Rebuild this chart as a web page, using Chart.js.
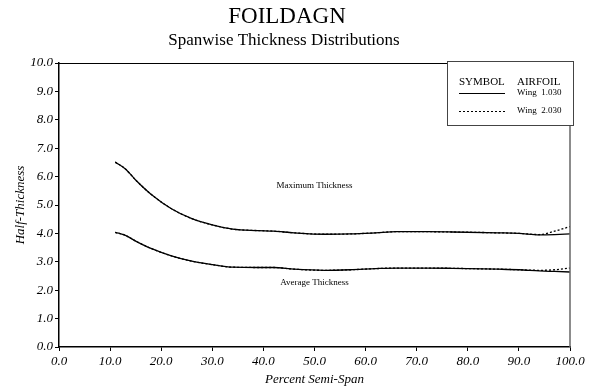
<!DOCTYPE html>
<html>
<head>
<meta charset="utf-8">
<title>FOILDAGN</title>
<script src="https://cdn.jsdelivr.net/npm/chart.js@4/dist/chart.umd.min.js"></script>
<style>
  html, body { margin: 0; padding: 0; background: #fff; }
  canvas { display: block; }
</style>
</head>
<body>
<canvas id="thicknessChart" width="597" height="389"></canvas>
<script>
// Percent semi-span stations
const span = [11, 13, 15, 18, 22, 26, 30, 34, 39, 42, 46, 52, 57, 62, 66, 72, 77, 86, 90, 94, 97, 100];

// Maximum half-thickness
const maxWing1 = [6.51, 6.27, 5.88, 5.38, 4.87, 4.52, 4.30, 4.15, 4.10, 4.08, 4.02, 3.97, 3.98, 4.02, 4.06, 4.06, 4.05, 4.02, 4.00, 3.95, 3.96, 3.98];
const maxWing2 = [6.51, 6.27, 5.88, 5.38, 4.87, 4.52, 4.30, 4.15, 4.10, 4.08, 4.02, 3.97, 3.98, 4.02, 4.06, 4.06, 4.05, 4.02, 4.00, 3.96, 4.08, 4.24];

// Average half-thickness
const avgWing1 = [4.04, 3.93, 3.73, 3.47, 3.21, 3.02, 2.90, 2.81, 2.80, 2.80, 2.74, 2.70, 2.72, 2.76, 2.78, 2.78, 2.77, 2.74, 2.72, 2.68, 2.66, 2.64];
const avgWing2 = [4.04, 3.93, 3.73, 3.47, 3.21, 3.02, 2.90, 2.81, 2.80, 2.80, 2.74, 2.70, 2.72, 2.76, 2.78, 2.78, 2.77, 2.74, 2.72, 2.70, 2.72, 2.78];

const airfoils = ['Wing  1.030', 'Wing  2.030'];
const curveNotes = [
    { text: 'Maximum Thickness', x: 50, y: 5.68 },
    { text: 'Average Thickness', x: 50, y: 2.27 }
];

const serif = '"Liberation Serif", "Times New Roman", serif';

function pts(values) {
    return span.map((s, i) => ({ x: s, y: values[i] }));
}

function curve(label, values, dash) {
    return {
        label: label,
        data: pts(values),
        borderColor: '#000',
        borderWidth: 1.3,
        borderDash: dash,
        pointRadius: 0,
        cubicInterpolationMode: 'monotone',
        fill: false
    };
}

// Page titles, frame, curve labels and the symbol box
const decorations = {
    id: 'decorations',
    afterDraw(chart) {
        const ctx = chart.ctx;
        const area = chart.chartArea;
        const xs = chart.scales.x;
        const ys = chart.scales.y;
        ctx.save();

        ctx.fillStyle = '#000';
        ctx.textAlign = 'center';
        ctx.textBaseline = 'alphabetic';
        ctx.font = '23px ' + serif;
        ctx.fillText('FOILDAGN', 287, 23);
        ctx.font = '17px ' + serif;
        ctx.fillText('Spanwise Thickness Distributions', 284, 45);

        // top and right edges of the frame
        ctx.lineWidth = 1;
        ctx.strokeStyle = '#000';
        ctx.beginPath();
        ctx.moveTo(area.left, area.top + 0.5);
        ctx.lineTo(area.right, area.top + 0.5);
        ctx.stroke();
        ctx.lineWidth = 1.5;
        ctx.strokeStyle = '#666';
        ctx.beginPath();
        ctx.moveTo(area.right, area.top);
        ctx.lineTo(area.right, area.bottom);
        ctx.stroke();

        ctx.font = '9px ' + serif;
        ctx.textBaseline = 'middle';
        curveNotes.forEach(n => {
            ctx.fillText(n.text, xs.getPixelForValue(n.x), ys.getPixelForValue(n.y));
        });

        // symbol box
        const bx = area.right - 123;
        const by = area.top - 2;
        const bw = 126;
        const bh = 64;
        ctx.fillStyle = '#fff';
        ctx.fillRect(bx, by, bw, bh);
        ctx.lineWidth = 1;
        ctx.strokeStyle = '#444';
        ctx.strokeRect(bx + 0.5, by + 0.5, bw, bh);

        ctx.fillStyle = '#000';
        ctx.textAlign = 'left';
        ctx.font = '11px ' + serif;
        ctx.fillText('SYMBOL', bx + 12, by + 21);
        ctx.fillText('AIRFOIL', bx + 70, by + 21);

        ctx.font = '9px ' + serif;
        const rows = [by + 32, by + 50];
        rows.forEach((ry, i) => {
            ctx.beginPath();
            ctx.lineWidth = 1;
            ctx.strokeStyle = '#000';
            ctx.setLineDash(i === 0 ? [] : [2, 2]);
            ctx.moveTo(bx + 12, ry + 0.5);
            ctx.lineTo(bx + 58, ry + 0.5);
            ctx.stroke();
            ctx.setLineDash([]);
            ctx.fillText(airfoils[i], bx + 70, ry);
        });

        ctx.restore();
    }
};

const ctx = document.getElementById('thicknessChart').getContext('2d');
new Chart(ctx, {
    type: 'line',
    data: {
        datasets: [
            curve('Wing 1.030 max', maxWing1, []),
            curve('Wing 1.030 avg', avgWing1, []),
            curve('Wing 2.030 max', maxWing2, [2, 2]),
            curve('Wing 2.030 avg', avgWing2, [2, 2])
        ]
    },
    options: {
        responsive: false,
        animation: false,
        layout: {
            padding: { top: 63, right: 27, bottom: 0, left: 0 }
        },
        plugins: {
            legend: { display: false },
            tooltip: { enabled: false }
        },
        scales: {
            x: {
                type: 'linear',
                min: 0,
                max: 100,
                afterFit: scale => { scale.height = 42; },
                ticks: {
                    stepSize: 10,
                    color: '#000',
                    padding: 3,
                    maxRotation: 0,
                    font: { family: serif, size: 13, style: 'italic' },
                    callback: v => v.toFixed(1)
                },
                grid: { drawOnChartArea: false, tickLength: 4, color: '#000' },
                border: { color: '#000', width: 1.5 },
                title: {
                    display: true,
                    text: 'Percent Semi-Span',
                    color: '#000',
                    padding: { top: 0, bottom: 2 },
                    font: { family: serif, size: 13, style: 'italic' }
                }
            },
            y: {
                type: 'linear',
                min: 0,
                max: 10,
                afterFit: scale => { scale.width = 59; },
                ticks: {
                    stepSize: 1,
                    color: '#000',
                    padding: 2,
                    font: { family: serif, size: 13, style: 'italic' },
                    callback: v => v.toFixed(1)
                },
                grid: { drawOnChartArea: false, tickLength: 4, color: '#000' },
                border: { color: '#000', width: 1.5 },
                title: {
                    display: true,
                    text: 'Half-Thickness',
                    color: '#000',
                    padding: { top: 13, bottom: 0 },
                    font: { family: serif, size: 13, style: 'italic' }
                }
            }
        }
    },
    plugins: [decorations]
});
</script>
</body>
</html>
